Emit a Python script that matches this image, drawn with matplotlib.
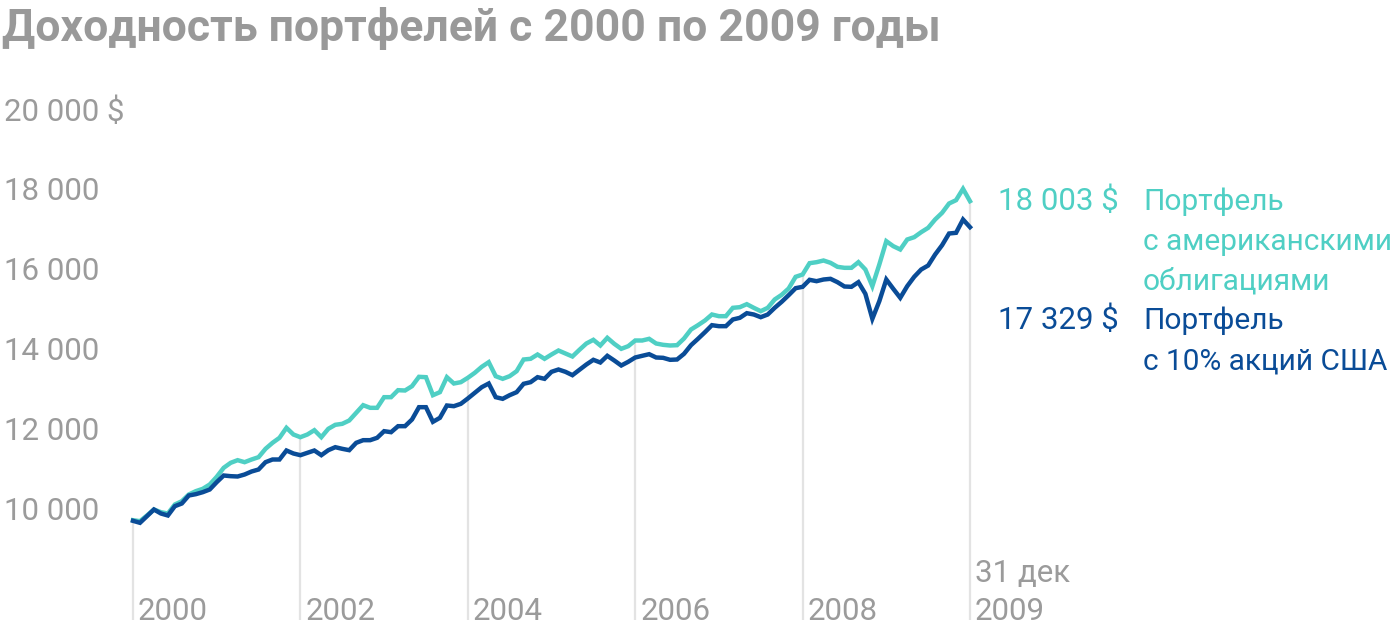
import numpy as np
import matplotlib
matplotlib.use("Agg")
import matplotlib.pyplot as plt
from matplotlib import transforms

plt.rcParams['font.family'] = ['Roboto', 'DejaVu Sans']

# ---- data (monthly, Jan 2000 .. 31 Dec 2009) ----
start_year = 2000
bonds = [9733, 9708, 9850, 10000, 9933, 9900, 10125, 10208, 10375, 10458, 10517, 10625,
         10817, 11042, 11167, 11233, 11183, 11250, 11308, 11517, 11667, 11792, 12042, 11875,
         11808, 11875, 11983, 11808, 12017, 12117, 12142, 12225, 12417, 12608, 12542, 12542,
         12808, 12808, 12983, 12975, 13083, 13317, 13308, 12858, 12933, 13308, 13150, 13183,
         13292, 13417, 13567, 13683, 13333, 13267, 13333, 13458, 13750, 13767, 13875, 13767,
         13875, 13975, 13900, 13825, 13992, 14150, 14242, 14100, 14292, 14142, 14017, 14083,
         14225, 14225, 14267, 14150, 14117, 14100, 14108, 14275, 14500, 14608, 14725, 14875,
         14833, 14833, 15042, 15058, 15133, 15042, 14958, 15042, 15250, 15367, 15525, 15817,
         15875, 16158, 16183, 16225, 16167, 16067, 16042, 16042, 16183, 16000, 15583, 16125,
         16708, 16583, 16500, 16750, 16808, 16933, 17042, 17250, 17417, 17650, 17733, 18017,
         17708]
stocks10 = [9717, 9667, 9833, 10000, 9900, 9850, 10083, 10150, 10350, 10383, 10433, 10500,
            10683, 10850, 10833, 10825, 10875, 10950, 11000, 11183, 11250, 11250, 11475, 11400,
            11358, 11417, 11475, 11358, 11483, 11558, 11517, 11483, 11667, 11733, 11733, 11792,
            11958, 11933, 12083, 12083, 12250, 12558, 12558, 12192, 12292, 12600, 12583, 12642,
            12775, 12917, 13058, 13150, 12808, 12767, 12858, 12933, 13142, 13183, 13308, 13267,
            13442, 13500, 13442, 13358, 13492, 13625, 13742, 13675, 13842, 13725, 13600, 13692,
            13800, 13842, 13883, 13800, 13792, 13742, 13750, 13892, 14108, 14267, 14433, 14608,
            14583, 14583, 14750, 14792, 14908, 14875, 14808, 14875, 15042, 15192, 15358, 15533,
            15567, 15742, 15708, 15750, 15767, 15683, 15575, 15567, 15683, 15392, 14767, 15208,
            15750, 15517, 15292, 15583, 15817, 16000, 16100, 16375, 16608, 16900, 16917, 17250,
            17058]
y_ticks = [10000, 12000, 14000, 16000, 18000, 20000]
y_tick_labels = ["10 000", "12 000", "14 000", "16 000", "18 000", "20 000 $"]
x_ticks = [2000, 2002, 2004, 2006, 2008, 2010]
x_tick_labels = ["2000", "2002", "2004", "2006", "2008", "2009"]
end_note = "31 дек"
bonds_final = "18 003 $"
stocks_final = "17 329 $"
bonds_name = ["Портфель", "с американскими", "облигациями"]
stocks_name = ["Портфель", "с 10% акций США"]
title = "Доходность портфелей с 2000 по 2009 годы"

TEAL = "#4FCFC4"
BLUE = "#0A4C97"
GRAY = "#9B9B9B"
GRID = "#E3E3E3"

t = start_year + np.arange(len(bonds)) / 12.0

W, H = 1400, 632
fig = plt.figure(figsize=(W / 100, H / 100), dpi=100)
ax = fig.add_axes([0, 0, 1, 1])
ax.set_axis_off()
px_per_year = 83.7
x0_px = 133
ax.set_xlim(2000 - x0_px / px_per_year, 2000 + (W - x0_px) / px_per_year)
# 10000 at 509.5 px from top, 0.04 px per $
ax.set_ylim(10000 - (H - 509.5) / 0.04, 10000 + 509.5 / 0.04)

# grid lines from the top series down to bottom
y_bottom = 10000 - (620 - 509.5) / 0.04
for xt in x_ticks:
    top = np.interp(xt, t, bonds)
    ax.plot([xt, xt], [y_bottom, top], color=GRID, lw=1.6, zorder=1, solid_capstyle='butt')

ax.plot(t, bonds, color=TEAL, lw=3.2, zorder=3, solid_joinstyle='miter')
ax.plot(t, stocks10, color=BLUE, lw=3.2, zorder=4, solid_joinstyle='miter')

fs = 22.5
fs_name = 21.5
# y tick labels (baseline offset ~11px below the value)
ytrans = transforms.blended_transform_factory(fig.transFigure, ax.transData)
ytrans = transforms.offset_copy(ytrans, fig=fig, y=-11 * 0.72, units='points')
for v, lab in zip(y_ticks, y_tick_labels):
    ax.text(4 / W, v, lab, transform=ytrans, fontsize=fs, color=GRAY,
            ha='left', va='baseline')

# x tick labels
xtrans = transforms.blended_transform_factory(ax.transData, fig.transFigure)
xtrans = transforms.offset_copy(xtrans, fig=fig, x=5 * 0.72, units='points')
for xt, lab in zip(x_ticks, x_tick_labels):
    ax.text(xt, 1 - 620 / H, lab, transform=xtrans, fontsize=fs, color=GRAY,
            ha='left', va='baseline')
ax.text(x_ticks[-1], 1 - 582 / H, end_note, transform=xtrans, fontsize=fs, color=GRAY,
        ha='left', va='baseline')

# right-hand labels
def fy(px):
    return 1 - px / H

fig.text(998 / W, fy(210), bonds_final, fontsize=fs, color=TEAL, ha='left', va='baseline')
for k, line in enumerate(bonds_name):
    fig.text(1143 / W, fy(210 + 40 * k), line, fontsize=fs_name, color=TEAL, ha='left', va='baseline')
fig.text(998 / W, fy(329), stocks_final, fontsize=fs, color=BLUE, ha='left', va='baseline')
for k, line in enumerate(stocks_name):
    fig.text(1143 / W, fy(329 + 40 * k), line, fontsize=fs_name, color=BLUE, ha='left', va='baseline')

# title
fig.text(2 / W, fy(41), title, fontsize=32, fontweight='bold', color="#999999",
         ha='left', va='baseline')

fig.savefig("out.png", dpi=100)
